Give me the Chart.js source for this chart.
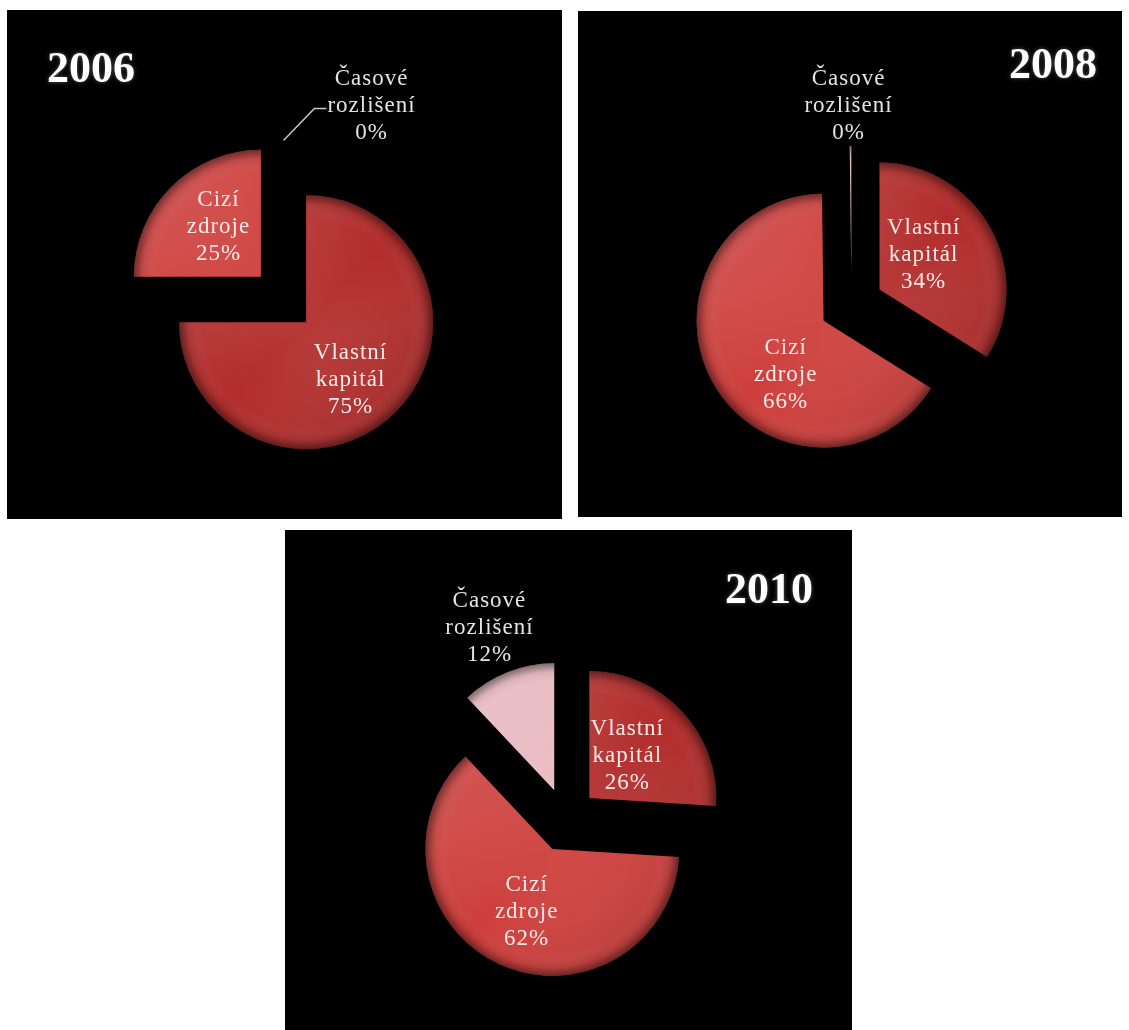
<!DOCTYPE html>
<html lang="cs">
<head>
<meta charset="utf-8">
<title>Struktura zdrojů 2006 – 2010</title>
<script src="https://cdn.jsdelivr.net/npm/chart.js@4.4.1/dist/chart.umd.min.js"></script>
<style>
  html, body { margin: 0; background: #fff; }
  body { width: 1129px; height: 1030px; position: relative; overflow: hidden; }
  .panel { position: absolute; background: #000; }
  #p2006 { left: 7px; top: 10px; width: 555px; height: 509px; }
  #p2008 { left: 578px; top: 11px; width: 544px; height: 506px; }
  #p2010 { left: 285px; top: 530px; width: 567px; height: 500px; }
</style>
</head>
<body>
<div class="panel" id="p2006"><canvas id="c2006"></canvas></div>
<div class="panel" id="p2008"><canvas id="c2008"></canvas></div>
<div class="panel" id="p2010"><canvas id="c2010"></canvas></div>

<script>
// Data
const categories = ['Vlastní kapitál', 'Cizí zdroje', 'Časové rozlišení'];
const years = ['2006', '2008', '2010'];
const values2006 = [75, 25, 0];
const values2008 = [34, 66, 0.2];
const values2010 = [26, 62, 12];

const sliceColors = ['#b22d2c', '#cd3e3b', '#e8b9bf'];
const labelFont = '23px "Liberation Serif", "Times New Roman", serif';
const titleFont = 'bold 44px "Liberation Serif", "Times New Roman", serif';

// Arc that is moved out by the full offset (no radius growth) and gets an Excel-like bevel
const ArcBase = Chart.ArcElement || Chart.elements.ArcElement;
const PieBase = Chart.PieController || Chart.controllers.pie;

class BevelArc extends ArcBase {
    draw(ctx) {
        if (this.circumference === 0) return;
        const opts = this.options;
        const shift = opts.offset || 0;
        const mid = (this.startAngle + this.endAngle) / 2;
        const r = this.outerRadius;
        ctx.save();
        ctx.translate(Math.cos(mid) * shift, Math.sin(mid) * shift);

        const sheen = ctx.createLinearGradient(this.x - r, this.y - r, this.x + r, this.y + r);
        sheen.addColorStop(0, 'rgba(255,255,255,0.18)');
        sheen.addColorStop(0.5, 'rgba(255,255,255,0)');
        sheen.addColorStop(1, 'rgba(0,0,0,0.18)');

        const rim = ctx.createRadialGradient(this.x, this.y, 0, this.x, this.y, r);
        rim.addColorStop(0, 'rgba(255,255,255,0.06)');
        rim.addColorStop(0.82, 'rgba(255,255,255,0)');
        rim.addColorStop(0.93, 'rgba(0,0,0,0.08)');
        rim.addColorStop(1, 'rgba(0,0,0,0.45)');

        for (const fill of [opts.backgroundColor, sheen, rim]) {
            this.options = Object.assign({}, opts, {offset: 0, borderWidth: 0, backgroundColor: fill});
            super.draw(ctx);
        }
        this.options = opts;
        ctx.restore();
    }
}
BevelArc.id = 'bevelArc';

class BevelPie extends PieBase {}
BevelPie.id = 'bevelPie';
BevelPie.defaults = {dataElementType: 'bevelArc'};

Chart.register(BevelArc, BevelPie);

// Slice labels (category on two lines + percent) and the year title
const pieLabels = {
    id: 'pieLabels',
    afterDatasetsDraw(chart, args, opts) {
        const ctx = chart.ctx;
        const meta = chart.getDatasetMeta(0);
        const values = chart.data.datasets[0].data;
        const total = values.reduce((a, b) => a + b, 0);

        ctx.save();
        ctx.font = labelFont;
        ctx.letterSpacing = '1px';
        ctx.textAlign = 'center';
        ctx.textBaseline = 'middle';

        meta.data.forEach((arc, i) => {
            const mid = (arc.startAngle + arc.endAngle) / 2;
            const shift = arc.options.offset || 0;
            const cx = arc.x + Math.cos(mid) * shift;
            const cy = arc.y + Math.sin(mid) * shift;
            const r = arc.outerRadius;
            const lines = chart.data.labels[i].split(' ');
            lines.push(Math.round(values[i] / total * 100) + '%');

            let x, y;
            const out = opts.outside[i];
            if (out) {
                const ox = cx + Math.cos(mid) * r;
                const oy = cy + Math.sin(mid) * r;
                x = ox + out[0];
                y = oy + out[1];
                if (opts.leader) {
                    const w = Math.max(...lines.map(t => ctx.measureText(t).width));
                    const endX = x - w / 2 - 1;
                    ctx.strokeStyle = '#c9c9c9';
                    ctx.lineWidth = 1.5;
                    ctx.beginPath();
                    ctx.moveTo(ox, oy);
                    ctx.lineTo(endX - 12, y + 3);
                    ctx.lineTo(endX, y + 3);
                    ctx.stroke();
                }
                ctx.fillStyle = '#e4e4e4';
            } else {
                const s = opts.shift[i] || [0, 0];
                x = cx + Math.cos(mid) * r * 0.55 + s[0];
                y = cy + Math.sin(mid) * r * 0.55 + s[1];
                ctx.fillStyle = '#f7ebe9';
            }
            lines.forEach((t, k) => ctx.fillText(t, x, y + (k - 1) * 27));
        });

        // year title
        ctx.letterSpacing = '0px';
        ctx.font = titleFont;
        ctx.textBaseline = 'alphabetic';
        ctx.textAlign = opts.title.align;
        ctx.fillStyle = '#ffffff';
        ctx.shadowColor = 'rgba(255,255,255,0.35)';
        ctx.shadowBlur = 4;
        ctx.fillText(opts.title.text, opts.title.x, opts.title.y);
        ctx.restore();
    }
};

function makePie(canvasId, values, padding, labelOpts) {
    return new Chart(document.getElementById(canvasId), {
        type: 'bevelPie',
        data: {
            labels: categories,
            datasets: [{
                data: values,
                backgroundColor: sliceColors,
                borderWidth: 0,
                offset: 32,
                radius: 127
            }]
        },
        options: {
            responsive: true,
            maintainAspectRatio: false,
            animation: false,
            events: [],
            layout: { padding: padding },
            plugins: {
                legend: { display: false },
                tooltip: { enabled: false },
                pieLabels: labelOpts
            }
        },
        plugins: [pieLabels]
    });
}

makePie('c2006', values2006, {top: 70, left: 0, right: 2, bottom: 0}, {
    title: {text: years[0], x: 40, y: 72, align: 'left'},
    shift: [[-5, 8], [7, -1]],
    outside: {2: [88, -35]},
    leader: true
});

makePie('c2008', values2008, {top: 82, left: 3, right: 0, bottom: 0}, {
    title: {text: years[1], x: 519, y: 67, align: 'right'},
    shift: [[-17, -1], [23, 20]],
    outside: {2: [-2, -40]},
    leader: false
});

makePie('c2010', values2010, {top: 80, left: 0, right: 5, bottom: 0}, {
    title: {text: years[2], x: 528, y: 73, align: 'right'},
    shift: [[-13, 6], [4, 0]],
    outside: {2: [-18, -44]},
    leader: false
});
</script>
</body>
</html>
